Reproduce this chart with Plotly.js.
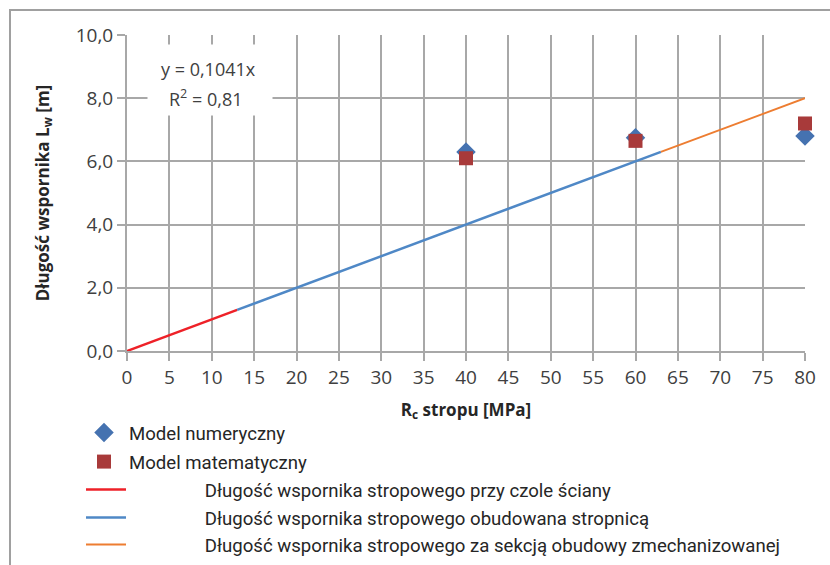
<!DOCTYPE html>
<html>
<head>
<meta charset="utf-8">
<script src="https://cdn.plot.ly/plotly-3.0.1.min.js"></script>
<style>html,body{margin:0;padding:0;background:#fff;}#chart{width:830px;height:565px;}</style>
</head>
<body>
<div id="chart"></div>
<script>
// Data
const numX = [40, 60, 80];
const numY = [6.3, 6.75, 6.8];
const matX = [40, 60, 80];
const matY = [6.1, 6.65, 7.2];
const redX = [0, 13];
const redY = [0, 1.3];
const blueX = [13, 63];
const blueY = [1.3, 6.3];
const orangeX = [63, 80];
const orangeY = [6.3, 8.0];
const xTicks = [0,5,10,15,20,25,30,35,40,45,50,55,60,65,70,75,80];
const yTicks = [0,2,4,6,8,10];
const names = [
  'Model numeryczny',
  'Model matematyczny',
  'Długość wspornika stropowego przy czole ściany',
  'Długość wspornika stropowego obudowana stropnicą',
  'Długość wspornika stropowego za sekcją obudowy zmechanizowanej'
];
const pad = '\u00a0'.repeat(16);

const FONT = 'Open Sans, sans-serif';
const LFONT = 'Roboto, sans-serif';
const traces = [
  {x: numX, y: numY, type: 'scatter', mode: 'markers', name: names[0], cliponaxis: false, legend: 'legend',
   marker: {symbol: 'diamond', size: 15, color: '#4572b0'}},
  {x: matX, y: matY, type: 'scatter', mode: 'markers', name: names[1], cliponaxis: false, legend: 'legend2',
   marker: {symbol: 'square', size: 14, color: '#a83a3a'}},
  {x: redX, y: redY, type: 'scatter', mode: 'lines', name: pad + names[2], legend: 'legend3',
   line: {color: '#ee2128', width: 2.5}},
  {x: blueX, y: blueY, type: 'scatter', mode: 'lines', name: pad + names[3], legend: 'legend4',
   line: {color: '#4f88c6', width: 2.5}},
  {x: orangeX, y: orangeY, type: 'scatter', mode: 'lines', name: pad + names[4], legend: 'legend5',
   line: {color: '#ed7d31', width: 2}}
];

function leg(centerY, dx) {
  return {
    xref: 'paper', yref: 'paper',
    x: (79 + (dx || 0) - 127)/678, y: (351 - centerY)/316, xanchor: 'left', yanchor: 'middle',
    font: {family: LFONT, size: 18.6, color: '#262626'},
    bgcolor: 'rgba(0,0,0,0)', itemwidth: 40
  };
}

const gridColor = '#a8a8a8';
const layout = {
  width: 830, height: 565,
  margin: {l: 127, r: 25, t: 35, b: 214, autoexpand: false},
  paper_bgcolor: '#ffffff', plot_bgcolor: '#ffffff',
  separators: ', ',
  font: {family: FONT, color: '#404040'},
  showlegend: true,
  legend: leg(433, 0),
  legend2: leg(462, 0),
  legend3: leg(490, 2),
  legend4: leg(518, 2),
  legend5: leg(545, 2),
  xaxis: {
    range: [0, 80], tickvals: xTicks, ticktext: xTicks.map(String),
    showgrid: true, gridcolor: gridColor, gridwidth: 2,
    showline: true, linecolor: gridColor, linewidth: 2,
    ticks: 'outside', ticklen: 8, tickcolor: gridColor, tickwidth: 2,
    tickfont: {family: FONT, size: 19, color: '#404040'},
    zeroline: false, fixedrange: true, automargin: false,
    title: {text: '<b>R<sub>c</sub> stropu [MPa]</b>', font: {family: FONT, size: 17, color: '#262626'}, standoff: 15}
  },
  yaxis: {
    range: [0, 10], tickvals: yTicks, tickformat: '.1f',
    showgrid: true, gridcolor: gridColor, gridwidth: 2,
    showline: true, linecolor: gridColor, linewidth: 2,
    ticks: 'outside', ticklen: 8, tickcolor: gridColor, tickwidth: 2,
    tickfont: {family: FONT, size: 19, color: '#404040'},
    zeroline: false, fixedrange: true, automargin: false,
    title: {text: '<b>Długość wspornika L<sub>w</sub> [m]</b>', font: {family: FONT, size: 17, color: '#262626'}, standoff: 22}
  },
  annotations: [
    {x: 9.8, y: 8.58, xref: 'x', yref: 'y', text: ' ', showarrow: false,
     width: 124, height: 70, bgcolor: '#ffffff', borderpad: 0},
    {x: 9.6, y: 8.92, xref: 'x', yref: 'y', text: 'y = 0,1041x', showarrow: false,
     font: {family: FONT, size: 18, color: '#404040'}},
    {x: 9.3, y: 8.0, xref: 'x', yref: 'y', text: 'R<sup>2</sup> = 0,81', showarrow: false,
     font: {family: FONT, size: 18, color: '#404040'}}
  ],
  shapes: [
    {type: 'rect', xref: 'paper', yref: 'paper',
     x0: (10-127)/678, x1: (845-127)/678, y0: (351-580)/316, y1: (351-10)/316,
     line: {color: '#a0a0a0', width: 2}, fillcolor: 'rgba(0,0,0,0)', layer: 'below'}
  ]
};

Plotly.newPlot('chart', traces, layout, {displayModeBar: false, staticPlot: true});
</script>
</body>
</html>
